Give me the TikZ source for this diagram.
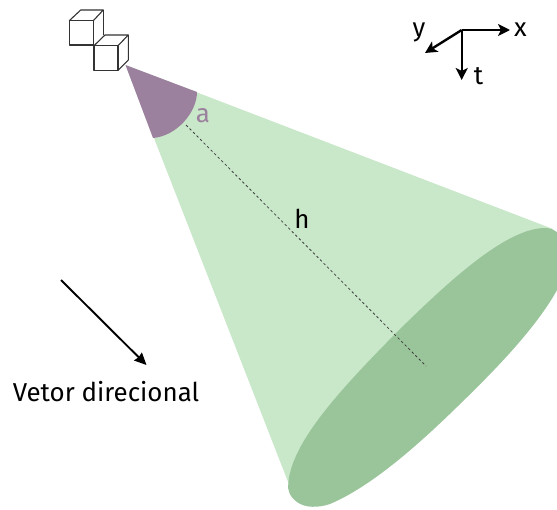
\documentclass[tikz,border=0pt]{standalone}
\usepackage{fontspec}
\setmainfont{Fira Sans}
\usetikzlibrary{arrows.meta}
\definecolor{conelight}{HTML}{C9E7C9}
\definecolor{conedark}{HTML}{9AC49A}
\definecolor{sectorpurple}{HTML}{9C819E}
\tikzset{
  cubeline/.style={draw=black!80,line width=1.1pt,line join=round},
  axisline/.style={draw=black,line width=2.4pt,-{Stealth[length=12pt,width=12pt,inset=3pt]}},
  dirline/.style={draw=black,line width=1.9pt,-{Stealth[length=12pt,width=11pt,inset=1pt]}},
  axislabel/.style={font=\fontsize{25.9}{26}\selectfont,text=black,inner sep=0pt},
  centerline/.style={draw=black!75,line width=0.8pt,dash pattern=on 2.5pt off 2.5pt},
}
\begin{document}
\begin{tikzpicture}[x=1pt,y=-1pt]
\useasboundingbox (0,0) rectangle (557,509);
\coordinate (apex) at (125.5,65);
\coordinate (sideA) at (553,229);
\coordinate (sideB) at (288.5,483);
\coordinate (arcA) at (197,92);
\coordinate (arcB) at (153,138);
\begin{scope}
\clip (0,0) rectangle (557,509);
\fill[conelight] (apex) -- (sideA) -- (sideB) -- cycle;
\fill[conedark] (288.3,483)
  .. controls (292,440) and (345,385) .. (397,332)
  .. controls (445,285) and (505,228) .. (545,228)
  .. controls (568,228) and (571,262) .. (557,290)
  .. controls (535,330) and (490,375) .. (457,407)
  .. controls (415,448) and (370,487) .. (330,504)
  .. controls (318,508) and (305,508) .. (297,502)
  .. controls (290,497) and (287,490) .. (288.3,483) -- cycle;
\end{scope}
\fill[sectorpurple] (apex) -- (arcA) .. controls (197,112) and (177,136) .. (arcB) -- cycle;
% cubes
\draw[cubeline] (69.3,20.7) rectangle (93.3,45);
\draw[cubeline] (69.3,20.7) -- (80.7,10) -- (103.3,10) -- (93.3,20.7);
\draw[cubeline] (103.3,10) -- (103.3,35);
\draw[cubeline] (94,45.7) rectangle (118,70.3);
\draw[cubeline] (94,45.7) -- (105,35) -- (128.3,35) -- (118,45.7);
\draw[cubeline] (128.3,35) -- (128.3,60) -- (118,70.3);
% axes
\coordinate (origin) at (461.7,30);
\coordinate (xtip) at (510,30);
\coordinate (ttip) at (461.7,80);
\coordinate (ytip) at (425,53);
\draw[axisline] (origin) -- (xtip);
\draw[axisline] (origin) -- (ttip);
\draw[axisline] (origin) -- (ytip);
\node[axislabel] (xl) at (520.5,30) {x};
\node[axislabel] (yl) at (419,32) {y};
\node[axislabel] (tl) at (478.5,76) {t};
% centre line
\coordinate (lineA) at (186,125);
\coordinate (lineB) at (426,366);
\draw[centerline] (lineA) -- (lineB);
\node[axislabel] (hl) at (302,219) {h};
\node[axislabel,text=sectorpurple] (al) at (203,116) {a};
% direction
\coordinate (dirA) at (61,280);
\coordinate (dirB) at (146.5,365);
\draw[dirline] (dirA) -- (dirB);
\node[axislabel] (vl) at (106,392) {Vetor direcional};
\end{tikzpicture}
\end{document}
